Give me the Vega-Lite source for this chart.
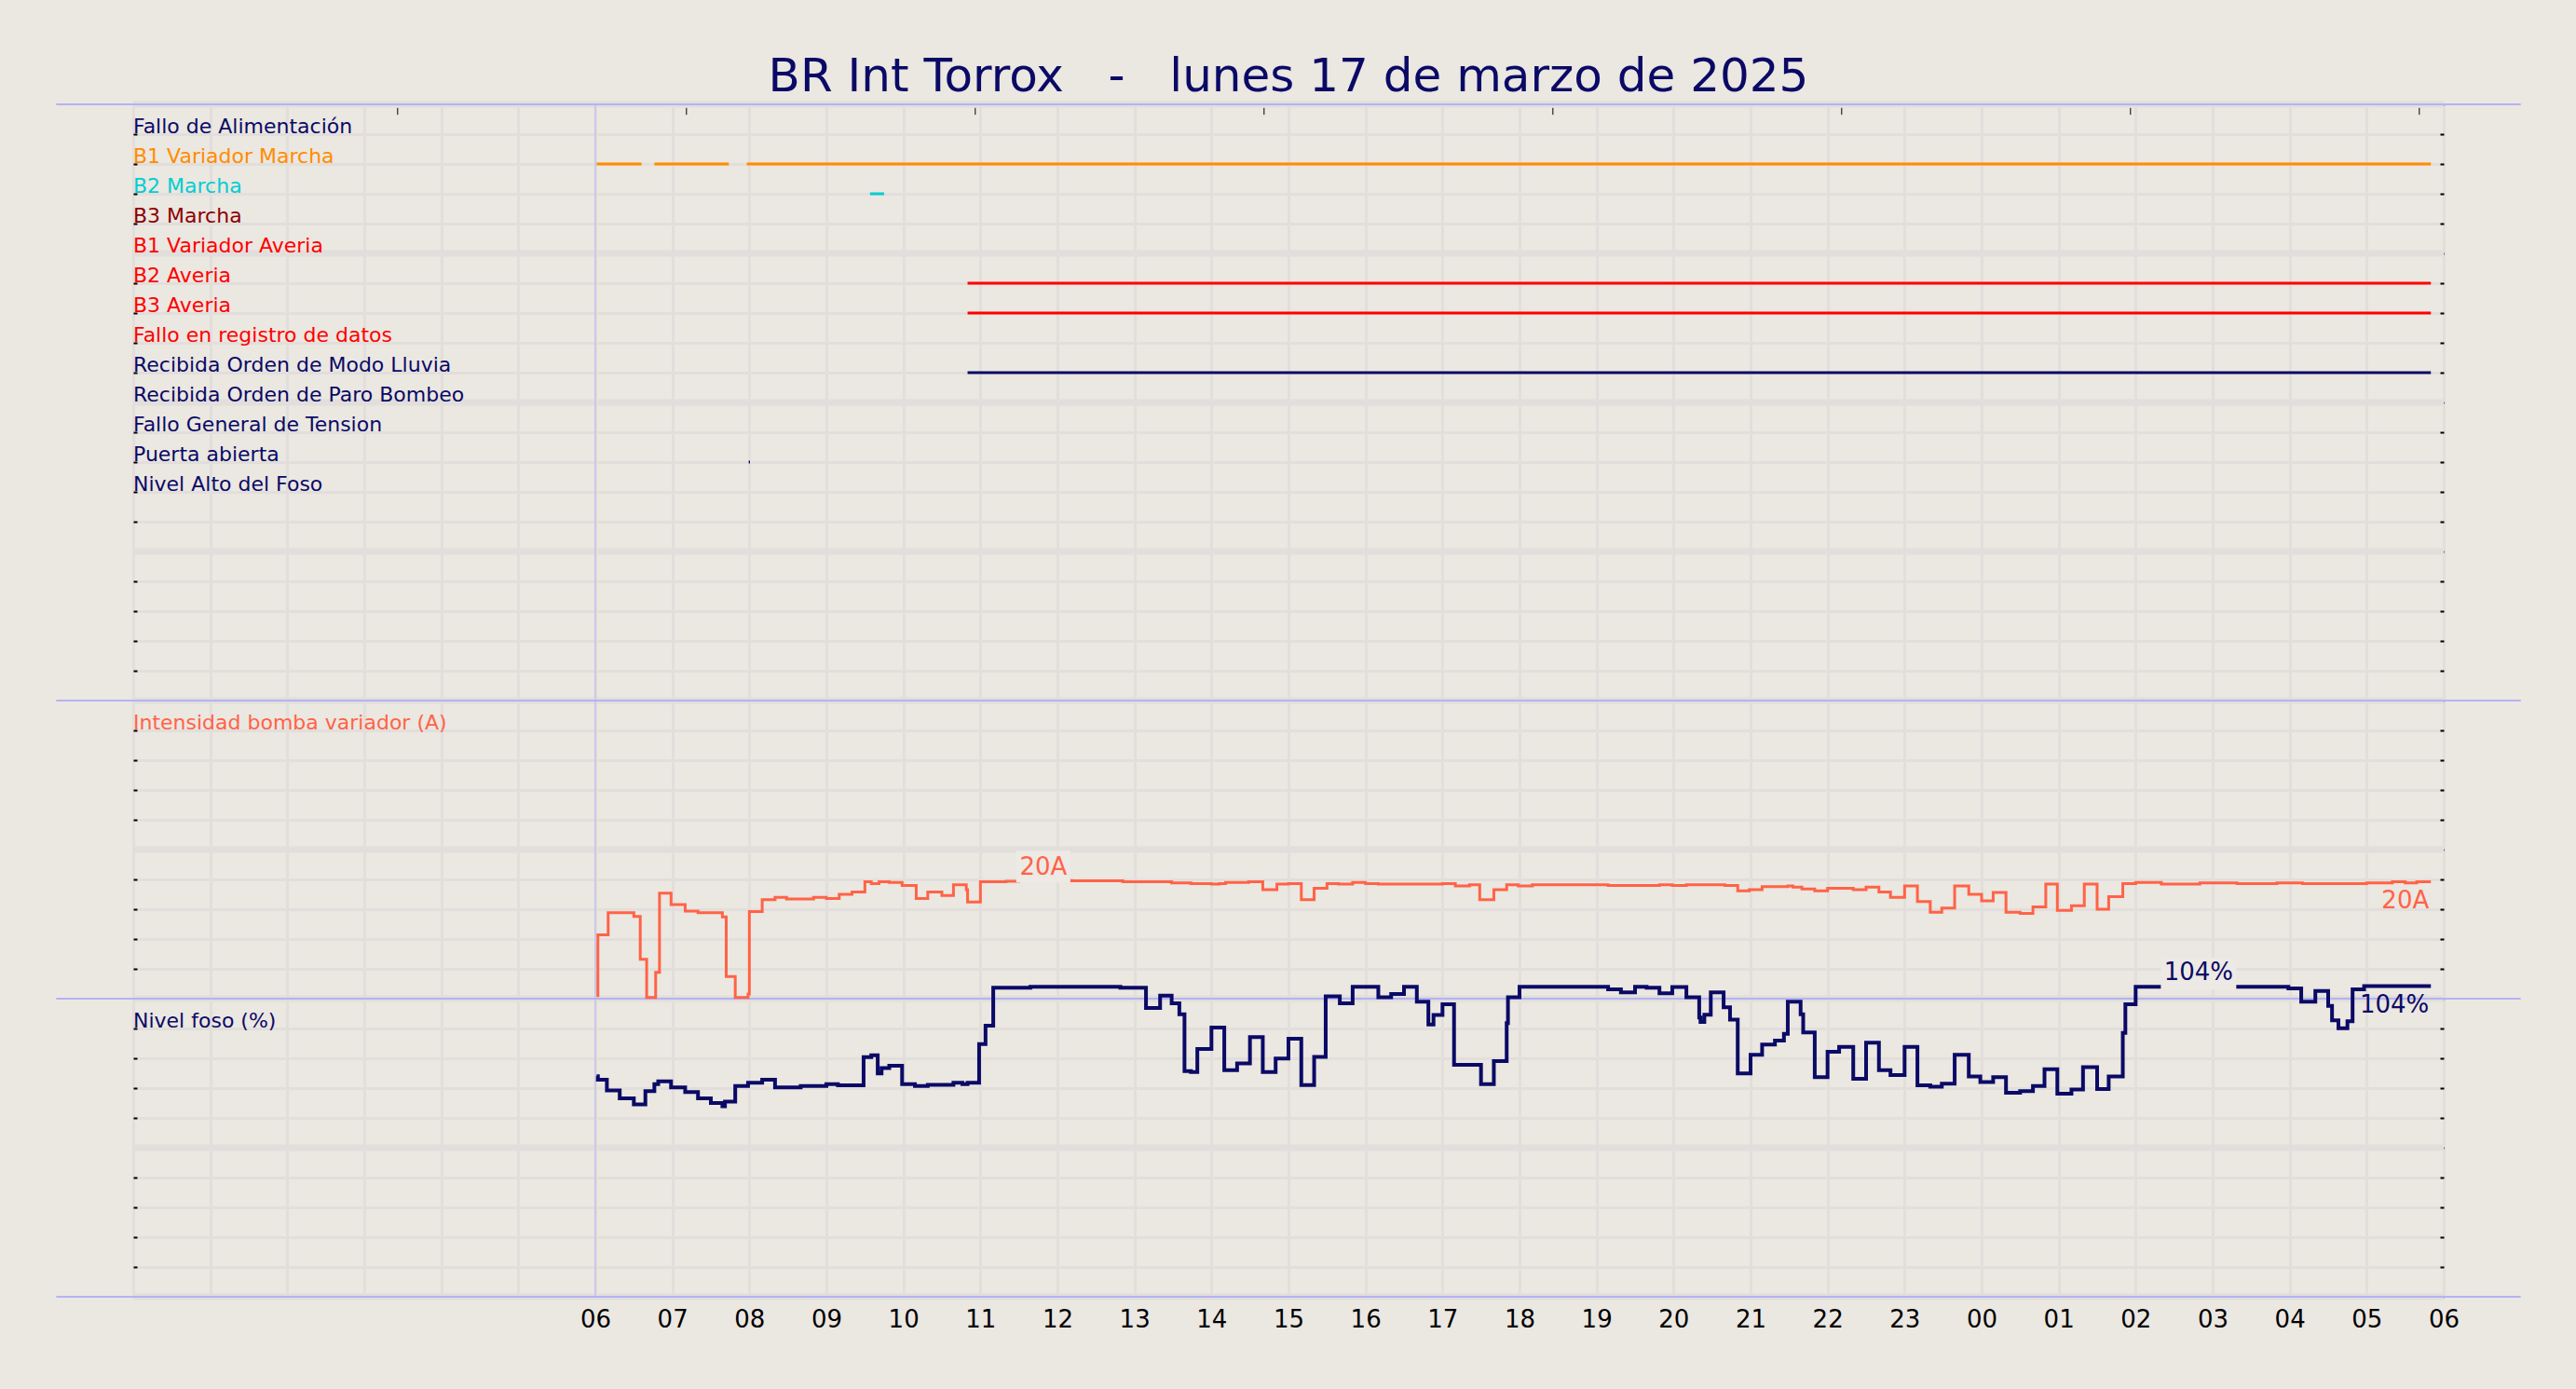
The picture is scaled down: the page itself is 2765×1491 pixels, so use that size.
{
  "$schema": "https://vega.github.io/schema/vega-lite/v6.json",
  "width": 2480,
  "height": 1280,
  "autosize": "none",
  "padding": {"left": 143, "top": 112, "right": 142, "bottom": 99},
  "background": "#ebe7e1",
  "config": {"view": {"stroke": null}, "font": "DejaVu Sans"},
  "title": {
    "text": "BR Int Torrox\u00a0\u00a0\u00a0-\u00a0\u00a0\u00a0lunes 17 de marzo de 2025",
    "fontSize": 50,
    "fontWeight": "normal",
    "color": "#0a0a66",
    "offset": 1
  },
  "datasets": {
    "senales": [
      {"senal": "Fallo de Alimentación", "canal": 1},
      {"senal": "B1 Variador Marcha", "canal": 2},
      {"senal": "B2 Marcha", "canal": 3},
      {"senal": "B3 Marcha", "canal": 4},
      {"senal": "B1 Variador Averia", "canal": 5},
      {"senal": "B2 Averia", "canal": 6},
      {"senal": "B3 Averia", "canal": 7},
      {"senal": "Fallo en registro de datos", "canal": 8},
      {"senal": "Recibida Orden de Modo Lluvia", "canal": 9},
      {"senal": "Recibida Orden de Paro Bombeo", "canal": 10},
      {"senal": "Fallo General de Tension", "canal": 11},
      {"senal": "Puerta abierta", "canal": 12},
      {"senal": "Nivel Alto del Foso", "canal": 13},
      {"senal": "Intensidad bomba variador (A)", "canal": 21},
      {"senal": "Nivel foso (%)", "canal": 31}
    ],
    "tramos": [
      {"senal": "B1 Variador Marcha", "canal": 2, "inicio": "2025-03-17T06:01:00Z", "fin": "2025-03-17T06:36:00Z"},
      {"senal": "B1 Variador Marcha", "canal": 2, "inicio": "2025-03-17T06:46:00Z", "fin": "2025-03-17T07:44:00Z"},
      {"senal": "B1 Variador Marcha", "canal": 2, "inicio": "2025-03-17T07:58:00Z", "fin": "2025-03-18T05:50:00Z"},
      {"senal": "B2 Marcha", "canal": 3, "inicio": "2025-03-17T09:34:00Z", "fin": "2025-03-17T09:45:00Z"},
      {"senal": "B2 Averia", "canal": 6, "inicio": "2025-03-17T10:50:00Z", "fin": "2025-03-18T05:50:00Z"},
      {"senal": "B3 Averia", "canal": 7, "inicio": "2025-03-17T10:50:00Z", "fin": "2025-03-18T05:50:00Z"},
      {"senal": "Recibida Orden de Modo Lluvia", "canal": 9, "inicio": "2025-03-17T10:50:00Z", "fin": "2025-03-18T05:50:00Z"},
      {"senal": "Puerta abierta", "canal": 12, "inicio": "2025-03-17T07:59:30Z", "fin": "2025-03-17T08:00:30Z"}
    ],
    "bandas": [{"fila": 0}, {"fila": 5}, {"fila": 10}, {"fila": 15}, {"fila": 20}, {"fila": 25}, {"fila": 30}, {"fila": 35}, {"fila": 40}],
    "limites": [{"fila": 0}, {"fila": 20}, {"fila": 30}, {"fila": 40}],
    "marcas_sup": [
      {"t": "2025-03-17T03:26:00Z"},
      {"t": "2025-03-17T07:11:00Z"},
      {"t": "2025-03-17T10:56:00Z"},
      {"t": "2025-03-17T14:41:00Z"},
      {"t": "2025-03-17T18:26:00Z"},
      {"t": "2025-03-17T22:11:00Z"},
      {"t": "2025-03-18T01:56:00Z"},
      {"t": "2025-03-18T05:41:00Z"}
    ],
    "intensidad": [
      {"t": "2025-03-17T06:01:00Z", "A": 0.5},
      {"t": "2025-03-17T06:02:00Z", "A": 10.7},
      {"t": "2025-03-17T06:10:00Z", "A": 14.4},
      {"t": "2025-03-17T06:30:00Z", "A": 13.8},
      {"t": "2025-03-17T06:35:00Z", "A": 6.6},
      {"t": "2025-03-17T06:40:00Z", "A": 0.2},
      {"t": "2025-03-17T06:47:00Z", "A": 4.4},
      {"t": "2025-03-17T06:50:00Z", "A": 17.7},
      {"t": "2025-03-17T06:59:00Z", "A": 15.8},
      {"t": "2025-03-17T07:10:00Z", "A": 14.7},
      {"t": "2025-03-17T07:20:00Z", "A": 14.4},
      {"t": "2025-03-17T07:39:00Z", "A": 13.7},
      {"t": "2025-03-17T07:42:00Z", "A": 3.7},
      {"t": "2025-03-17T07:49:00Z", "A": 0.2},
      {"t": "2025-03-17T07:59:00Z", "A": 0.8},
      {"t": "2025-03-17T08:00:00Z", "A": 14.6},
      {"t": "2025-03-17T08:10:00Z", "A": 16.6},
      {"t": "2025-03-17T08:20:00Z", "A": 17.0},
      {"t": "2025-03-17T08:29:00Z", "A": 16.7},
      {"t": "2025-03-17T08:50:00Z", "A": 17.0},
      {"t": "2025-03-17T09:00:00Z", "A": 16.8},
      {"t": "2025-03-17T09:10:00Z", "A": 17.5},
      {"t": "2025-03-17T09:20:00Z", "A": 17.9},
      {"t": "2025-03-17T09:30:00Z", "A": 19.6},
      {"t": "2025-03-17T09:35:00Z", "A": 19.3},
      {"t": "2025-03-17T09:41:00Z", "A": 19.6},
      {"t": "2025-03-17T09:49:00Z", "A": 19.5},
      {"t": "2025-03-17T09:59:00Z", "A": 19.0},
      {"t": "2025-03-17T10:10:00Z", "A": 16.8},
      {"t": "2025-03-17T10:19:00Z", "A": 17.9},
      {"t": "2025-03-17T10:30:00Z", "A": 17.3},
      {"t": "2025-03-17T10:39:00Z", "A": 19.1},
      {"t": "2025-03-17T10:49:00Z", "A": 18.3},
      {"t": "2025-03-17T10:50:00Z", "A": 16.2},
      {"t": "2025-03-17T11:00:00Z", "A": 19.6},
      {"t": "2025-03-17T11:20:00Z", "A": 19.7},
      {"t": "2025-03-17T11:30:00Z", "A": 19.8},
      {"t": "2025-03-17T12:11:00Z", "A": 19.75},
      {"t": "2025-03-17T12:51:00Z", "A": 19.6},
      {"t": "2025-03-17T13:29:00Z", "A": 19.4},
      {"t": "2025-03-17T13:44:00Z", "A": 19.3},
      {"t": "2025-03-17T14:00:00Z", "A": 19.2},
      {"t": "2025-03-17T14:06:00Z", "A": 19.3},
      {"t": "2025-03-17T14:11:00Z", "A": 19.5},
      {"t": "2025-03-17T14:29:00Z", "A": 19.6},
      {"t": "2025-03-17T14:40:00Z", "A": 18.3},
      {"t": "2025-03-17T14:51:00Z", "A": 19.2},
      {"t": "2025-03-17T15:00:00Z", "A": 19.3},
      {"t": "2025-03-17T15:10:00Z", "A": 16.6},
      {"t": "2025-03-17T15:20:00Z", "A": 18.5},
      {"t": "2025-03-17T15:30:00Z", "A": 19.3},
      {"t": "2025-03-17T15:39:00Z", "A": 19.2},
      {"t": "2025-03-17T15:50:00Z", "A": 19.5},
      {"t": "2025-03-17T16:00:00Z", "A": 19.3},
      {"t": "2025-03-17T16:10:00Z", "A": 19.2},
      {"t": "2025-03-17T17:00:00Z", "A": 19.3},
      {"t": "2025-03-17T17:10:00Z", "A": 18.9},
      {"t": "2025-03-17T17:21:00Z", "A": 19.1},
      {"t": "2025-03-17T17:29:00Z", "A": 16.6},
      {"t": "2025-03-17T17:40:00Z", "A": 18.3},
      {"t": "2025-03-17T17:50:00Z", "A": 19.1},
      {"t": "2025-03-17T17:59:00Z", "A": 18.9},
      {"t": "2025-03-17T18:10:00Z", "A": 19.1},
      {"t": "2025-03-17T19:09:00Z", "A": 19.0},
      {"t": "2025-03-17T19:49:00Z", "A": 19.1},
      {"t": "2025-03-17T19:59:00Z", "A": 19.0},
      {"t": "2025-03-17T20:10:00Z", "A": 19.1},
      {"t": "2025-03-17T20:40:00Z", "A": 19.0},
      {"t": "2025-03-17T20:50:00Z", "A": 18.1},
      {"t": "2025-03-17T20:59:00Z", "A": 18.3},
      {"t": "2025-03-17T21:09:00Z", "A": 18.8},
      {"t": "2025-03-17T21:29:00Z", "A": 18.9},
      {"t": "2025-03-17T21:33:00Z", "A": 18.7},
      {"t": "2025-03-17T21:40:00Z", "A": 18.4},
      {"t": "2025-03-17T21:50:00Z", "A": 18.1},
      {"t": "2025-03-17T22:00:00Z", "A": 18.5},
      {"t": "2025-03-17T22:20:00Z", "A": 18.3},
      {"t": "2025-03-17T22:30:00Z", "A": 18.7},
      {"t": "2025-03-17T22:40:00Z", "A": 17.9},
      {"t": "2025-03-17T22:49:00Z", "A": 17.0},
      {"t": "2025-03-17T23:00:00Z", "A": 18.9},
      {"t": "2025-03-17T23:10:00Z", "A": 16.3},
      {"t": "2025-03-17T23:20:00Z", "A": 14.5},
      {"t": "2025-03-17T23:29:00Z", "A": 15.2},
      {"t": "2025-03-17T23:39:00Z", "A": 18.9},
      {"t": "2025-03-17T23:50:00Z", "A": 17.5},
      {"t": "2025-03-18T00:00:00Z", "A": 16.4},
      {"t": "2025-03-18T00:09:00Z", "A": 17.8},
      {"t": "2025-03-18T00:19:00Z", "A": 14.5},
      {"t": "2025-03-18T00:30:00Z", "A": 14.3},
      {"t": "2025-03-18T00:40:00Z", "A": 15.4},
      {"t": "2025-03-18T00:50:00Z", "A": 19.2},
      {"t": "2025-03-18T00:59:00Z", "A": 14.8},
      {"t": "2025-03-18T01:10:00Z", "A": 15.6},
      {"t": "2025-03-18T01:20:00Z", "A": 19.2},
      {"t": "2025-03-18T01:30:00Z", "A": 15.0},
      {"t": "2025-03-18T01:39:00Z", "A": 17.1},
      {"t": "2025-03-18T01:50:00Z", "A": 19.3},
      {"t": "2025-03-18T02:00:00Z", "A": 19.5},
      {"t": "2025-03-18T02:20:00Z", "A": 19.2},
      {"t": "2025-03-18T02:50:00Z", "A": 19.4},
      {"t": "2025-03-18T03:19:00Z", "A": 19.3},
      {"t": "2025-03-18T03:50:00Z", "A": 19.4},
      {"t": "2025-03-18T04:10:00Z", "A": 19.3},
      {"t": "2025-03-18T05:00:00Z", "A": 19.4},
      {"t": "2025-03-18T05:20:00Z", "A": 19.6},
      {"t": "2025-03-18T05:30:00Z", "A": 19.4},
      {"t": "2025-03-18T05:39:00Z", "A": 19.6},
      {"t": "2025-03-18T05:50:00Z", "A": 19.6}
    ],
    "nivel": [
      {"t": "2025-03-17T06:01:00Z", "N": 74.0},
      {"t": "2025-03-17T06:02:00Z", "N": 72.8},
      {"t": "2025-03-17T06:09:00Z", "N": 69.2},
      {"t": "2025-03-17T06:19:00Z", "N": 66.6},
      {"t": "2025-03-17T06:30:00Z", "N": 64.5},
      {"t": "2025-03-17T06:39:00Z", "N": 69.0},
      {"t": "2025-03-17T06:46:00Z", "N": 71.3},
      {"t": "2025-03-17T06:49:00Z", "N": 72.3},
      {"t": "2025-03-17T06:59:00Z", "N": 70.2},
      {"t": "2025-03-17T07:10:00Z", "N": 68.7},
      {"t": "2025-03-17T07:20:00Z", "N": 66.6},
      {"t": "2025-03-17T07:30:00Z", "N": 65.0},
      {"t": "2025-03-17T07:39:00Z", "N": 63.9},
      {"t": "2025-03-17T07:41:00Z", "N": 65.5},
      {"t": "2025-03-17T07:49:00Z", "N": 70.7},
      {"t": "2025-03-17T07:59:00Z", "N": 71.8},
      {"t": "2025-03-17T08:10:00Z", "N": 72.8},
      {"t": "2025-03-17T08:20:00Z", "N": 70.2},
      {"t": "2025-03-17T08:40:00Z", "N": 70.7},
      {"t": "2025-03-17T09:00:00Z", "N": 71.3},
      {"t": "2025-03-17T09:09:00Z", "N": 70.9},
      {"t": "2025-03-17T09:29:00Z", "N": 80.4},
      {"t": "2025-03-17T09:35:00Z", "N": 81.0},
      {"t": "2025-03-17T09:40:00Z", "N": 74.9},
      {"t": "2025-03-17T09:43:00Z", "N": 76.7},
      {"t": "2025-03-17T09:49:00Z", "N": 77.5},
      {"t": "2025-03-17T09:59:00Z", "N": 71.3},
      {"t": "2025-03-17T10:09:00Z", "N": 70.7},
      {"t": "2025-03-17T10:19:00Z", "N": 71.1},
      {"t": "2025-03-17T10:39:00Z", "N": 71.8},
      {"t": "2025-03-17T10:46:00Z", "N": 71.3},
      {"t": "2025-03-17T10:50:00Z", "N": 71.8},
      {"t": "2025-03-17T10:59:00Z", "N": 84.8},
      {"t": "2025-03-17T11:04:00Z", "N": 90.9},
      {"t": "2025-03-17T11:10:00Z", "N": 103.7},
      {"t": "2025-03-17T11:39:00Z", "N": 104.0},
      {"t": "2025-03-17T12:49:00Z", "N": 103.7},
      {"t": "2025-03-17T13:09:00Z", "N": 96.9},
      {"t": "2025-03-17T13:20:00Z", "N": 101.0},
      {"t": "2025-03-17T13:29:00Z", "N": 98.4},
      {"t": "2025-03-17T13:35:00Z", "N": 94.8},
      {"t": "2025-03-17T13:39:00Z", "N": 75.7},
      {"t": "2025-03-17T13:44:00Z", "N": 75.4},
      {"t": "2025-03-17T13:49:00Z", "N": 83.1},
      {"t": "2025-03-17T14:00:00Z", "N": 90.3},
      {"t": "2025-03-17T14:10:00Z", "N": 76.0},
      {"t": "2025-03-17T14:20:00Z", "N": 78.3},
      {"t": "2025-03-17T14:30:00Z", "N": 87.1},
      {"t": "2025-03-17T14:40:00Z", "N": 75.4},
      {"t": "2025-03-17T14:50:00Z", "N": 79.9},
      {"t": "2025-03-17T15:00:00Z", "N": 86.6},
      {"t": "2025-03-17T15:10:00Z", "N": 71.0},
      {"t": "2025-03-17T15:20:00Z", "N": 80.5},
      {"t": "2025-03-17T15:29:00Z", "N": 100.8},
      {"t": "2025-03-17T15:40:00Z", "N": 98.4},
      {"t": "2025-03-17T15:50:00Z", "N": 104.0},
      {"t": "2025-03-17T16:10:00Z", "N": 100.5},
      {"t": "2025-03-17T16:20:00Z", "N": 101.6},
      {"t": "2025-03-17T16:30:00Z", "N": 104.0},
      {"t": "2025-03-17T16:40:00Z", "N": 99.0},
      {"t": "2025-03-17T16:49:00Z", "N": 91.3},
      {"t": "2025-03-17T16:53:00Z", "N": 94.5},
      {"t": "2025-03-17T17:00:00Z", "N": 98.1},
      {"t": "2025-03-17T17:09:00Z", "N": 77.8},
      {"t": "2025-03-17T17:30:00Z", "N": 71.3},
      {"t": "2025-03-17T17:40:00Z", "N": 79.1},
      {"t": "2025-03-17T17:50:00Z", "N": 91.8},
      {"t": "2025-03-17T17:51:00Z", "N": 100.5},
      {"t": "2025-03-17T18:00:00Z", "N": 104.0},
      {"t": "2025-03-17T19:09:00Z", "N": 103.1},
      {"t": "2025-03-17T19:19:00Z", "N": 102.1},
      {"t": "2025-03-17T19:30:00Z", "N": 104.0},
      {"t": "2025-03-17T19:39:00Z", "N": 103.7},
      {"t": "2025-03-17T19:49:00Z", "N": 101.8},
      {"t": "2025-03-17T19:59:00Z", "N": 103.9},
      {"t": "2025-03-17T20:10:00Z", "N": 100.5},
      {"t": "2025-03-17T20:20:00Z", "N": 93.7},
      {"t": "2025-03-17T20:21:00Z", "N": 92.2},
      {"t": "2025-03-17T20:24:00Z", "N": 94.6},
      {"t": "2025-03-17T20:29:00Z", "N": 102.1},
      {"t": "2025-03-17T20:39:00Z", "N": 97.1},
      {"t": "2025-03-17T20:44:00Z", "N": 93.0},
      {"t": "2025-03-17T20:50:00Z", "N": 74.9},
      {"t": "2025-03-17T21:00:00Z", "N": 81.2},
      {"t": "2025-03-17T21:09:00Z", "N": 84.6},
      {"t": "2025-03-17T21:19:00Z", "N": 85.9},
      {"t": "2025-03-17T21:26:00Z", "N": 88.2},
      {"t": "2025-03-17T21:29:00Z", "N": 99.0},
      {"t": "2025-03-17T21:39:00Z", "N": 94.8},
      {"t": "2025-03-17T21:41:00Z", "N": 88.7},
      {"t": "2025-03-17T21:50:00Z", "N": 73.7},
      {"t": "2025-03-17T22:00:00Z", "N": 82.2},
      {"t": "2025-03-17T22:09:00Z", "N": 83.8},
      {"t": "2025-03-17T22:20:00Z", "N": 73.1},
      {"t": "2025-03-17T22:30:00Z", "N": 85.2},
      {"t": "2025-03-17T22:40:00Z", "N": 76.0},
      {"t": "2025-03-17T22:49:00Z", "N": 74.4},
      {"t": "2025-03-17T23:00:00Z", "N": 83.8},
      {"t": "2025-03-17T23:10:00Z", "N": 70.9},
      {"t": "2025-03-17T23:20:00Z", "N": 70.5},
      {"t": "2025-03-17T23:29:00Z", "N": 71.5},
      {"t": "2025-03-17T23:39:00Z", "N": 81.2},
      {"t": "2025-03-17T23:50:00Z", "N": 73.9},
      {"t": "2025-03-17T23:59:00Z", "N": 72.0},
      {"t": "2025-03-18T00:09:00Z", "N": 73.7},
      {"t": "2025-03-18T00:19:00Z", "N": 68.4},
      {"t": "2025-03-18T00:30:00Z", "N": 69.0},
      {"t": "2025-03-18T00:40:00Z", "N": 70.7},
      {"t": "2025-03-18T00:49:00Z", "N": 76.3},
      {"t": "2025-03-18T00:59:00Z", "N": 68.1},
      {"t": "2025-03-18T01:10:00Z", "N": 69.5},
      {"t": "2025-03-18T01:19:00Z", "N": 77.0},
      {"t": "2025-03-18T01:30:00Z", "N": 69.7},
      {"t": "2025-03-18T01:39:00Z", "N": 73.9},
      {"t": "2025-03-18T01:50:00Z", "N": 88.5},
      {"t": "2025-03-18T01:52:00Z", "N": 98.1},
      {"t": "2025-03-18T02:00:00Z", "N": 104.0},
      {"t": "2025-03-18T03:59:00Z", "N": 103.4},
      {"t": "2025-03-18T04:09:00Z", "N": 99.0},
      {"t": "2025-03-18T04:20:00Z", "N": 102.6},
      {"t": "2025-03-18T04:30:00Z", "N": 97.6},
      {"t": "2025-03-18T04:33:00Z", "N": 92.7},
      {"t": "2025-03-18T04:38:00Z", "N": 90.1},
      {"t": "2025-03-18T04:45:00Z", "N": 92.4},
      {"t": "2025-03-18T04:49:00Z", "N": 103.1},
      {"t": "2025-03-18T04:58:00Z", "N": 104.2},
      {"t": "2025-03-18T05:50:00Z", "N": 104.2}
    ],
    "max_int": [{"t": "2025-03-17T11:49:00Z", "A": 19.8, "txt": "20A"}],
    "fin_int": [{"t": "2025-03-18T05:50:00Z", "A": 19.6, "txt": "20A"}],
    "max_niv": [{"t": "2025-03-18T02:49:00Z", "N": 104.0, "txt": "104%"}],
    "fin_niv": [{"t": "2025-03-18T05:50:00Z", "N": 104.2, "txt": "104%"}]
  },
  "resolve": {"scale": {"y": "independent"}, "axis": {"y": "independent"}},
  "layer": [
    {
      "data": {"name": "bandas"},
      "mark": {"type": "rule", "color": "#e2dedb", "strokeWidth": 7},
      "encoding": {
        "y": {
          "field": "fila",
          "type": "quantitative",
          "scale": {"domain": [0, 40], "reverse": true, "nice": false, "zero": false},
          "axis": {
            "orient": "left",
            "title": null,
            "values": [0,1,2,3,4,5,6,7,8,9,10,11,12,13,14,15,16,17,18,19,20,21,22,23,24,25,26,27,28,29,30,31,32,33,34,35,36,37,38,39,40],
            "grid": true,
            "gridColor": "#e2dedb",
            "gridWidth": 3,
            "labels": false,
            "domain": false,
            "ticks": true,
            "tickSize": 4,
            "tickWidth": 2,
            "tickColor": "#000000",
            "offset": -4
          }
        }
      }
    },
    {
      "data": {"name": "tramos"},
      "mark": {"type": "rule", "strokeWidth": 3, "strokeCap": "butt"},
      "encoding": {
        "x": {
          "field": "inicio",
          "type": "temporal",
          "scale": {"type": "utc", "domain": [1742169600000, 1742277600000]},
          "axis": {
            "orient": "bottom",
            "title": null,
            "grid": true,
            "gridColor": "#e2dedb",
            "gridWidth": 3,
            "ticks": false,
            "domain": false,
            "tickCount": 30,
            "labelExpr": "utchours(datum.value) < 6 && utcdate(datum.value) == 17 ? '' : utcFormat(datum.value, '%H')",
            "labelFontSize": 26,
            "labelColor": "#000000",
            "labelPadding": 11,
            "labelFlush": false,
            "labelOverlap": false
          }
        },
        "x2": {"field": "fin"},
        "y": {"field": "canal", "type": "quantitative", "scale": {"domain": [0, 40], "reverse": true, "nice": false, "zero": false}, "axis": null},
        "color": {
          "field": "senal",
          "type": "nominal",
          "legend": null,
          "scale": {
            "domain": ["Fallo de Alimentación", "B1 Variador Marcha", "B2 Marcha", "B3 Marcha", "B1 Variador Averia", "B2 Averia", "B3 Averia", "Fallo en registro de datos", "Recibida Orden de Modo Lluvia", "Recibida Orden de Paro Bombeo", "Fallo General de Tension", "Puerta abierta", "Nivel Alto del Foso", "Intensidad bomba variador (A)", "Nivel foso (%)"],
            "range": ["#0a0a66", "#ff8c00", "#00ced1", "#8b0000", "#ff0000", "#ff0000", "#ff0000", "#ff0000", "#0a0a66", "#0a0a66", "#0a0a66", "#0a0a66", "#0a0a66", "#ff6347", "#0a0a66"]
          }
        }
      }
    },
    {
      "data": {"name": "senales"},
      "mark": {"type": "text", "align": "left", "baseline": "alphabetic", "fontSize": 22, "dy": -1},
      "encoding": {
        "x": {"datum": 1742169600000, "type": "temporal"},
        "y": {"field": "canal", "type": "quantitative", "scale": {"domain": [0, 40], "reverse": true, "nice": false, "zero": false}, "axis": null},
        "text": {"field": "senal"},
        "color": {"field": "senal", "type": "nominal", "legend": null}
      }
    },
    {
      "data": {"name": "limites"},
      "mark": {"type": "rule", "color": "#b3b3f5", "strokeWidth": 2},
      "encoding": {
        "x": {"datum": 1742166000000, "type": "temporal"},
        "x2": {"datum": 1742281200000},
        "y": {"field": "fila", "type": "quantitative", "scale": {"domain": [0, 40], "reverse": true, "nice": false, "zero": false}, "axis": null}
      }
    },
    {
      "data": {"values": [{}]},
      "mark": {"type": "rule", "color": "#b3b3f5", "strokeWidth": 1},
      "encoding": {
        "x": {"datum": 1742191200000, "type": "temporal"}
      }
    },
    {
      "data": {"name": "marcas_sup"},
      "mark": {"type": "rule", "color": "#000000", "strokeWidth": 1},
      "encoding": {
        "x": {"field": "t", "type": "temporal"},
        "y": {"datum": 0.12, "type": "quantitative", "scale": {"domain": [0, 40], "reverse": true, "nice": false, "zero": false}, "axis": null},
        "y2": {"datum": 0.35}
      }
    },
    {
      "data": {"name": "intensidad"},
      "mark": {"type": "line", "interpolate": "step-after", "color": "#ff6347", "strokeWidth": 3},
      "encoding": {
        "x": {"field": "t", "type": "temporal"},
        "y": {
          "field": "A",
          "type": "quantitative",
          "scale": {"domain": [-50, 150], "nice": false, "zero": false},
          "axis": {
            "orient": "right",
            "title": null,
            "values": [-50,-45,-40,-35,-30,-25,-20,-15,-10,-5,0,5,10,15,20,25,30,35,40,45,50,55,60,65,70,75,80,85,90,95,100,105,110,115,120,125,130,135,140,145,150],
            "grid": false,
            "labels": false,
            "domain": false,
            "ticks": true,
            "tickSize": 4,
            "tickWidth": 2,
            "tickColor": "#000000",
            "offset": -4
          }
        }
      }
    },
    {
      "data": {"name": "max_int"},
      "mark": {"type": "point", "shape": "M-1,-0.586H1V0.586H-1Z", "size": 3364, "filled": true, "opacity": 1, "color": "#ede9e4", "strokeWidth": 0, "yOffset": -15},
      "encoding": {
        "x": {"field": "t", "type": "temporal"},
        "y": {"field": "A", "type": "quantitative", "scale": {"domain": [-50, 150], "nice": false, "zero": false}, "axis": null}
      }
    },
    {
      "data": {"name": "max_int"},
      "mark": {"type": "text", "align": "center", "baseline": "alphabetic", "fontSize": 26, "color": "#ff6347", "dy": -6},
      "encoding": {
        "x": {"field": "t", "type": "temporal"},
        "y": {"field": "A", "type": "quantitative", "scale": {"domain": [-50, 150], "nice": false, "zero": false}, "axis": null},
        "text": {"field": "txt"}
      }
    },
    {
      "data": {"name": "fin_int"},
      "mark": {"type": "text", "align": "right", "baseline": "alphabetic", "fontSize": 26, "color": "#ff6347", "dy": 28, "dx": -2},
      "encoding": {
        "x": {"field": "t", "type": "temporal"},
        "y": {"field": "A", "type": "quantitative", "scale": {"domain": [-50, 150], "nice": false, "zero": false}, "axis": null},
        "text": {"field": "txt"}
      }
    },
    {
      "data": {"name": "nivel"},
      "mark": {"type": "line", "interpolate": "step-after", "color": "#0a0a66", "strokeWidth": 4},
      "encoding": {
        "x": {"field": "t", "type": "temporal"},
        "y": {"field": "N", "type": "quantitative", "scale": {"domain": [0, 400], "nice": false, "zero": false}, "axis": null}
      }
    },
    {
      "data": {"name": "max_niv"},
      "mark": {"type": "point", "shape": "M-1,-0.42H1V0.42H-1Z", "size": 6561, "filled": true, "opacity": 1, "color": "#ede9e4", "strokeWidth": 0, "yOffset": -14},
      "encoding": {
        "x": {"field": "t", "type": "temporal"},
        "y": {"field": "N", "type": "quantitative", "scale": {"domain": [0, 400], "nice": false, "zero": false}, "axis": null}
      }
    },
    {
      "data": {"name": "max_niv"},
      "mark": {"type": "text", "align": "center", "baseline": "alphabetic", "fontSize": 26, "color": "#0a0a66", "dy": -7},
      "encoding": {
        "x": {"field": "t", "type": "temporal"},
        "y": {"field": "N", "type": "quantitative", "scale": {"domain": [0, 400], "nice": false, "zero": false}, "axis": null},
        "text": {"field": "txt"}
      }
    },
    {
      "data": {"name": "fin_niv"},
      "mark": {"type": "text", "align": "right", "baseline": "alphabetic", "fontSize": 26, "color": "#0a0a66", "dy": 28, "dx": -2},
      "encoding": {
        "x": {"field": "t", "type": "temporal"},
        "y": {"field": "N", "type": "quantitative", "scale": {"domain": [0, 400], "nice": false, "zero": false}, "axis": null},
        "text": {"field": "txt"}
      }
    }
  ]
}
